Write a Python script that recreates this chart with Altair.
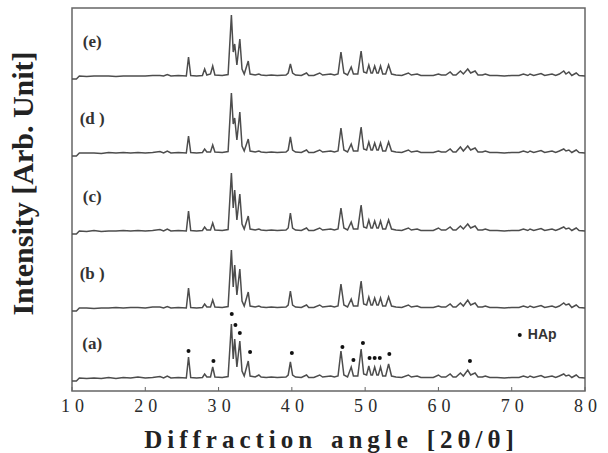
import altair as alt
import pandas as pd

# Shared 2-theta sampling positions (degrees)
two_theta = [
    10.0, 10.6, 11.0, 12.0, 13.0, 14.0, 15.0, 16.0, 17.0, 18.0,
    19.0, 20.0, 21.0, 22.0, 22.5, 23.0, 23.5, 24.5, 25.6, 25.9,
    26.2, 27.0, 27.8, 28.1, 28.4, 28.9, 29.2, 29.5, 30.5, 31.3,
    31.75, 32.0, 32.2, 32.5, 32.9, 33.2, 33.5, 34.05, 34.3, 35.0,
    35.5, 35.8, 36.5, 37.2, 38.0, 39.2, 39.5, 39.8, 40.1, 40.5,
    41.3, 42.0, 42.3, 43.0, 43.8, 44.2, 45.3, 45.8, 46.3, 46.7,
    47.1, 47.6, 48.1, 48.4, 49.0, 49.45, 49.8, 50.2, 50.5, 50.8,
    51.0, 51.3, 51.6, 51.8, 52.1, 52.4, 52.8, 53.2, 53.6, 54.2,
    55.0, 55.9, 56.3, 57.1, 57.6, 58.5, 59.3, 60.0, 60.4, 61.0,
    61.6, 62.0, 62.4, 63.0, 63.4, 64.0, 64.4, 65.0, 65.4, 66.0,
    66.4, 67.0, 68.0, 69.0, 70.0, 71.0, 71.6, 72.2, 72.5, 73.0,
    74.0, 74.5, 75.5, 76.0, 76.5, 77.1, 77.4, 77.8, 78.2, 78.8,
    79.2, 80.0,
]

# Intensities (arb. units)
pattern_a = [
    -2, -2, 1, 0.5, 1, 0.5, 1.5, 0.5, 1.5, 1,
    2, 1, 1.5, 2.5, 1, 3, 1, 1.5, 1, 22,
    1.5, 1, 1.5, 5, 2, 2, 12, 2, 1.5, 2.5,
    55, 20, 40, 12, 38, 8, 3, 18, 3, 2,
    4, 2, 1.5, 2, 1.5, 2, 4, 17, 4, 2,
    1.5, 4, 1.5, 1.5, 4, 2, 3, 2, 3, 28,
    4, 2, 12, 3, 3, 30, 5, 4, 13, 4,
    4, 12, 4, 4, 12, 3, 3, 15, 3, 2,
    1.5, 4, 2, 3, 1.5, 1.5, 1.5, 4, 2, 2,
    5, 2, 2, 6, 3, 9, 4, 6, 2, 2,
    3, 1.5, 1.5, 1, 1.5, 1.5, 3, 1.5, 3, 1.5,
    3.5, 1.5, 3, 1.5, 3, 5, 3, 4, 1.5, 4,
    1.5, 1,
]
pattern_b = [
    -2, -2, 1, 1, 0.5, 1, 1, 1.5, 1, 1.5,
    1.5, 1, 2, 2, 1, 2.5, 1, 1.5, 1, 21,
    1.5, 1, 1.5, 5, 2, 2, 9, 2, 1.5, 2.5,
    59, 22, 44, 14, 40, 8, 3, 17, 3, 2,
    3, 2, 1.5, 2, 1.5, 2, 4, 18, 4, 2,
    1.5, 4, 1.5, 1.5, 4, 2, 3, 2, 3, 25,
    4, 2, 10, 3, 3, 28, 5, 4, 12, 4,
    4, 11, 4, 4, 11, 3, 3, 12, 3, 2,
    1.5, 4, 2, 3, 1.5, 1.5, 1.5, 3, 2, 2,
    5, 2, 2, 6, 3, 9, 4, 6, 2, 2,
    3, 1.5, 1.5, 1, 1.5, 1.5, 3, 1.5, 3, 1.5,
    3.5, 1.5, 3, 1.5, 3, 6, 4, 5, 1.5, 4,
    1.5, 1,
]
pattern_c = [
    -2, -2, 1, 0.5, 1.5, 0.5, 1, 1, 1.5, 1,
    1.5, 1, 1.5, 2.5, 1, 3, 1, 1.5, 1, 21,
    1.5, 1, 1.5, 5, 2, 2, 9, 2, 1.5, 2.5,
    59, 24, 42, 12, 38, 8, 3, 16, 3, 2,
    3, 2, 1.5, 2, 1.5, 2, 4, 19, 4, 2,
    1.5, 4, 1.5, 1.5, 4, 2, 3, 2, 3, 24,
    4, 2, 10, 3, 3, 27, 5, 4, 12, 4,
    4, 11, 4, 4, 11, 3, 3, 12, 3, 2,
    1.5, 4, 2, 3, 1.5, 1.5, 1.5, 4, 2, 2,
    5, 2, 2, 6, 3, 8, 4, 6, 2, 2,
    3, 1.5, 1.5, 1, 1.5, 1.5, 3, 1.5, 3, 1.5,
    3.5, 1.5, 3, 1.5, 3, 5, 3, 4, 1.5, 4,
    1.5, 1,
]
pattern_d = [
    -2, -2, 1, 1, 1, 0.5, 1.5, 1, 1.5, 1,
    1.5, 1, 1.5, 2.5, 1, 3, 1, 1.5, 1, 18,
    1.5, 1, 1.5, 5, 2, 2, 9, 2, 1.5, 2.5,
    61, 30, 36, 14, 42, 8, 3, 15, 3, 2,
    3, 2, 1.5, 2, 1.5, 2, 4, 17, 4, 2,
    1.5, 4, 1.5, 1.5, 4, 2, 3, 2, 3, 26,
    4, 2, 10, 3, 3, 27, 5, 4, 12, 4,
    4, 11, 4, 4, 11, 3, 3, 12, 3, 2,
    1.5, 4, 2, 3, 1.5, 1.5, 1.5, 3, 2, 2,
    5, 2, 2, 7, 3, 8, 4, 6, 2, 2,
    3, 1.5, 1.5, 1, 1.5, 1.5, 3, 1.5, 3, 1.5,
    3.5, 1.5, 3, 1.5, 3, 5, 3, 4, 1.5, 4,
    1.5, 1,
]
pattern_e = [
    -2, -2, 1, 0.5, 1, 1, 1, 0.5, 1, 1,
    1, 1, 1.5, 1.5, 1, 2.5, 1, 1.5, 1, 20,
    1.5, 1, 1.5, 8, 2, 3, 11, 2, 1.5, 2.5,
    62, 25, 33, 12, 38, 8, 3, 16, 3, 2,
    3, 2, 1.5, 2, 1.5, 2, 4, 13, 4, 2,
    1.5, 4, 1.5, 1.5, 4, 2, 3, 2, 3, 25,
    4, 2, 10, 3, 3, 26, 5, 4, 12, 4,
    4, 11, 4, 4, 11, 3, 3, 12, 3, 2,
    1.5, 4, 2, 3, 1.5, 1.5, 1.5, 3, 2, 2,
    5, 2, 2, 6, 3, 8, 4, 6, 2, 2,
    3, 1.5, 1.5, 1, 1.5, 1.5, 3, 1.5, 3, 1.5,
    3.5, 1.5, 3, 1.5, 3, 6, 3, 5, 1.5, 4,
    1.5, 1,
]

sample_labels = ["(a)", "(b )", "(c)", "(d )", "(e)"]
offsets = [12, 82, 159, 237, 314]
patterns = [pattern_a, pattern_b, pattern_c, pattern_d, pattern_e]

# HAp reflections marked on pattern (a)
hap_two_theta = [25.9, 29.3, 31.8, 32.3, 32.9, 34.3, 40.0, 46.9, 48.4, 49.7, 50.6, 51.3, 52.0, 53.3, 64.3]
hap_level = [40, 30, 77, 66, 58, 39, 38, 44, 31, 48, 33, 33, 33, 37, 30]

x_ticks = [10, 20, 30, 40, 50, 60, 70, 80]

rows = []
for lab, off, vals in zip(sample_labels, offsets, patterns):
    assert len(vals) == len(two_theta)
    for t, v in zip(two_theta, vals):
        rows.append({"t": t, "y": off + v, "s": lab})
df = pd.DataFrame(rows)

lab_df = pd.DataFrame({"t": [12.75] * 5, "y": [o + 35 for o in offsets], "s": sample_labels})
hap_df = pd.DataFrame({"t": hap_two_theta, "y": hap_level})
leg_df = pd.DataFrame({"t": [71.1], "y": [56], "txt": ["HAp"]})
tick_df = pd.DataFrame({"t": x_ticks})

sp = "\u2009"
gap = "\u00a0\u2002"
xtitle = sp.join("Diffraction") + gap + sp.join("angle") + gap + sp.join("[2θ/θ]")

xscale = alt.Scale(domain=[10, 80], nice=False, zero=False)
yscale = alt.Scale(domain=[0, 383], nice=False, zero=False)

lines = alt.Chart(df).mark_line(color="#4d4d4d", strokeWidth=1.5).encode(
    x=alt.X("t:Q", scale=xscale,
            axis=alt.Axis(values=x_ticks, title=xtitle, grid=False, domain=False,
                          ticks=False, labelPadding=6, labelFlush=False,
                          labelExpr="join(split(datum.label, ''), '\u2009\u200a')",
                          labelFont="Liberation Serif", labelFontSize=18,
                          labelColor="#2a2a2a", titleFont="Liberation Serif",
                          titleFontSize=25, titleFontWeight="bold", titleColor="#222",
                          titleBaseline="alphabetic", titleY=56)),
    y=alt.Y("y:Q", scale=yscale,
            axis=alt.Axis(labels=False, ticks=False, domain=False, grid=False,
                          title="Intensity [Arb. Unit]", titleFont="Liberation Serif",
                          titleFontSize=30, titleFontWeight="bold", titleColor="#222",
                          titleAngle=270, titleAlign="center", titleBaseline="middle",
                          titleX=-49, titleY=175)),
    detail="s:N",
)

ticks = alt.Chart(tick_df).mark_rule(color="#666", strokeWidth=1).encode(
    x=alt.X("t:Q", scale=xscale), y=alt.value(383), y2=alt.value(379)
)

labels = alt.Chart(lab_df).mark_text(font="Liberation Serif", fontWeight="bold",
                                     fontSize=17, color="#333", align="center",
                                     baseline="middle").encode(
    x=alt.X("t:Q", scale=xscale), y=alt.Y("y:Q", scale=yscale), text="s:N"
)

dots = alt.Chart(hap_df).mark_point(filled=True, color="#111", size=16, opacity=1).encode(
    x=alt.X("t:Q", scale=xscale), y=alt.Y("y:Q", scale=yscale)
)

leg_dot = alt.Chart(leg_df).mark_point(filled=True, color="#111", size=16, opacity=1).encode(
    x=alt.X("t:Q", scale=xscale), y=alt.Y("y:Q", scale=yscale)
)
leg_txt = alt.Chart(leg_df).mark_text(font="Liberation Sans", fontWeight="bold", fontSize=14,
                                      color="#333", align="left", baseline="middle", dx=8).encode(
    x=alt.X("t:Q", scale=xscale), y=alt.Y("y:Q", scale=yscale), text="txt:N"
)

chart = alt.layer(lines, ticks, labels, dots, leg_dot, leg_txt).properties(
    width=513, height=383,
    padding={"left": 72, "top": 8, "right": 23, "bottom": 62},
    autosize=alt.AutoSizeParams(type="none"),
    background="white",
).configure_view(stroke="#666", strokeWidth=1.5)

chart.save("out.html", embed_options={"renderer": "svg", "actions": False})
